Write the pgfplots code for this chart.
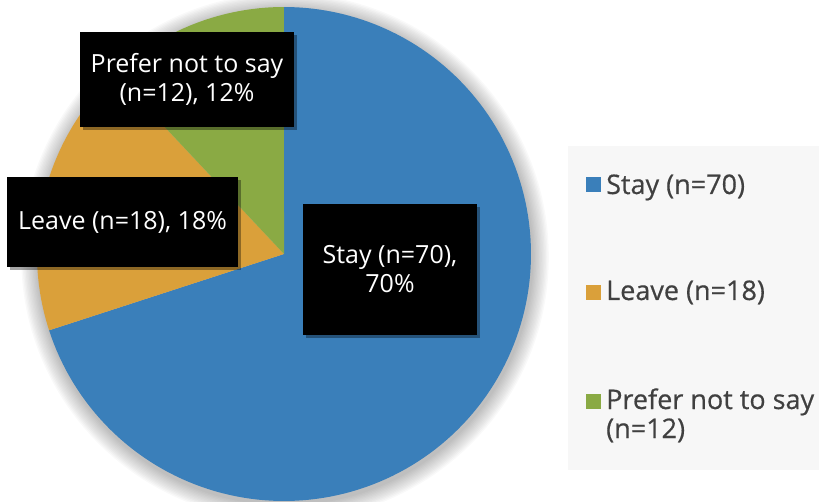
\documentclass[border=0pt]{standalone}
\usepackage{pgfplots}
\pgfplotsset{compat=1.18}
\usepackage{pgfplotstable}
\usepackage{fontspec}
\setmainfont{Open Sans}
\newfontfamily\legfont{Open Sans}[FakeBold=0.5]
\usetikzlibrary{shadows}

\definecolor{cStay}{RGB}{58,127,186}
\definecolor{cLeave}{RGB}{218,160,58}
\definecolor{cPrefer}{RGB}{138,170,68}
\definecolor{legtext}{RGB}{64,64,64}
\definecolor{legfill}{RGB}{247,247,247}

% responses per answer
\pgfplotstableread{
answer n
Stay 70
Leave 18
Prefer 12
}\answers
\pgfplotstablegetelem{0}{n}\of\answers \let\nStay\pgfplotsretval
\pgfplotstablegetelem{1}{n}\of\answers \let\nLeave\pgfplotsretval
\pgfplotstablegetelem{2}{n}\of\answers \let\nPrefer\pgfplotsretval
\pgfmathsetmacro{\total}{\nStay+\nLeave+\nPrefer}
% slices run clockwise from twelve o'clock
\pgfmathsetmacro{\aS}{90}
\pgfmathsetmacro{\aL}{\aS-360*(\nStay/\total)}
\pgfmathsetmacro{\aP}{\aL-360*(\nLeave/\total)}
\pgfmathsetmacro{\aE}{\aP-360*(\nPrefer/\total)}
\def\cx{284}
\def\cy{254}
\def\r{247}

\begin{document}
\begin{tikzpicture}
\begin{axis}[
  width=819pt, height=502pt, scale only axis,
  xmin=0, xmax=819, ymin=0, ymax=502, y dir=reverse,
  hide axis, clip=false,
]
\coordinate (frameA) at (axis cs:0,502);
\coordinate (frameB) at (axis cs:819,0);
% soft shadow under the pie
\pgfplotsinvokeforeach{1,...,12}{
  \fill[black, opacity=0.022] (axis cs:\cx+1,\cy+3) circle[radius=\r+1.4*#1];
}
\addplot[fill=cStay, draw=none, domain=\aL:\aS, samples=150, variable=\t]
  ({\cx+\r*cos(\t)}, {\cy-\r*sin(\t)}) -- (axis cs:\cx,\cy) -- cycle;
\addplot[fill=cLeave, draw=none, domain=\aP:\aL, samples=60, variable=\t]
  ({\cx+\r*cos(\t)}, {\cy-\r*sin(\t)}) -- (axis cs:\cx,\cy) -- cycle;
\addplot[fill=cPrefer, draw=none, domain=\aE:\aP, samples=60, variable=\t]
  ({\cx+\r*cos(\t)}, {\cy-\r*sin(\t)}) -- (axis cs:\cx,\cy) -- cycle;

% data labels
\tikzset{lbl/.style={fill=black, text=white, align=center, inner sep=0pt,
  font=\fontsize{25}{29}\selectfont,
  drop shadow={shadow xshift=3pt, shadow yshift=-3pt, opacity=0.35, fill=black}}}
\node[lbl, minimum width=214pt, minimum height=95pt] at (axis cs:187,79.5)
  {Prefer not to say\\(n=12), 12\%};
\node[lbl, minimum width=231pt, minimum height=90pt] at (axis cs:122.5,222)
  {Leave (n=18), 18\%};
\node[lbl, minimum width=174pt, minimum height=131pt] at (axis cs:390,269.5)
  {Stay (n=70),\\70\%};

% legend
\fill[legfill] (axis cs:568,146) rectangle (axis cs:819,470);
\fill[cStay] (axis cs:586,177) rectangle (axis cs:601,192);
\fill[cLeave] (axis cs:586,285) rectangle (axis cs:601,300);
\fill[cPrefer] (axis cs:586,394) rectangle (axis cs:601,409);
\tikzset{leg/.style={anchor=base west, inner sep=0pt, text=legtext,
  align=left, font=\legfont\fontsize{27}{29}\selectfont}}
\node[leg] at (axis cs:606,194) {Stay (n=70)};
\node[leg] at (axis cs:606,300) {Leave (n=18)};
\node[leg] at (axis cs:606,438) {Prefer not to say\\(n=12)};
\end{axis}
\pgfresetboundingbox
\path (frameA) rectangle (frameB);
\end{tikzpicture}
\end{document}
